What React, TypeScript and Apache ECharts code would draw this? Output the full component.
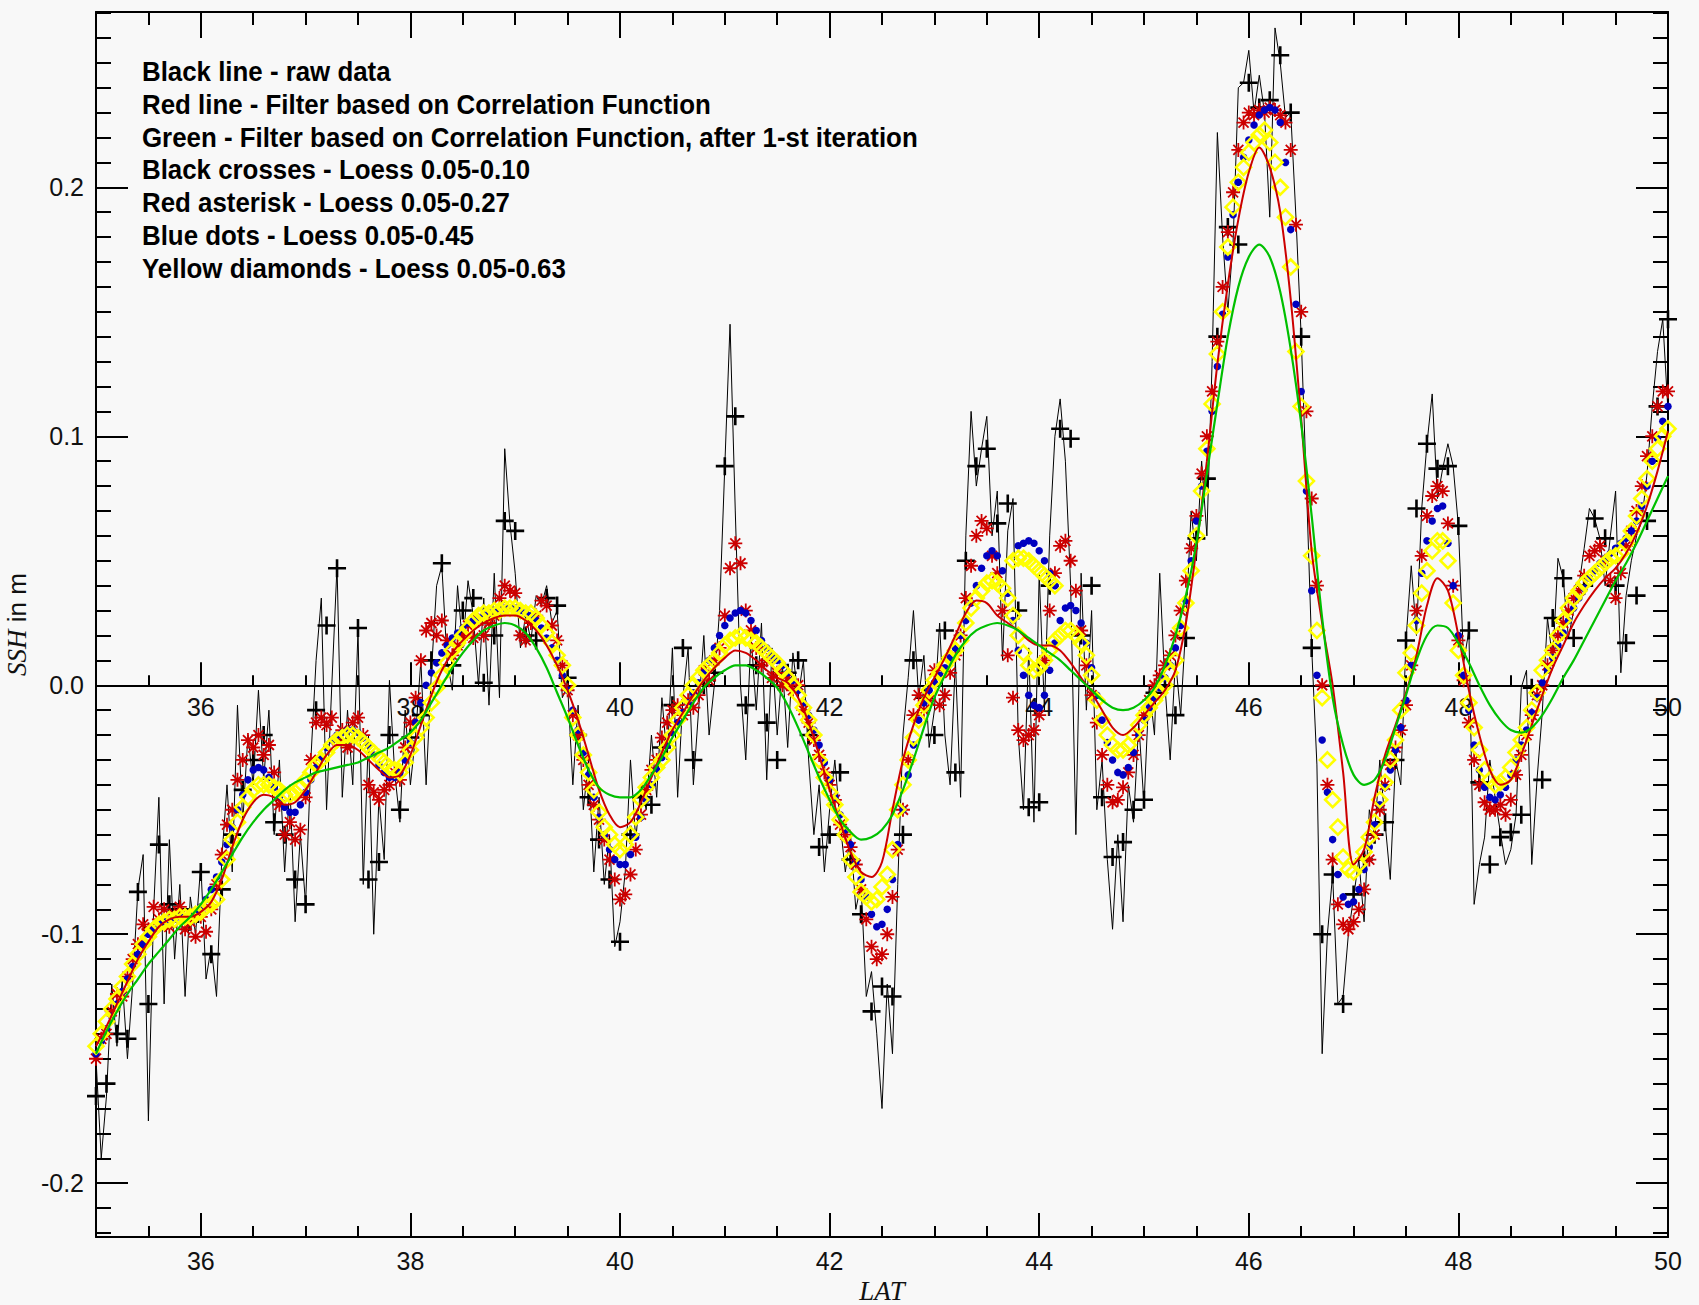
import React, { useEffect, useRef } from "react";
import * as echarts from "echarts";

// ---------- data (LAT grid starts at 35.00) ----------
const LAT_START = 35;
const FINE_STEP = 0.05; // raw, asterisks, blue, yellow
const COARSE_STEP = 0.1; // crosses, red line, green line

const RAW = [
  -0.150,-0.190,-0.165,-0.120,-0.145,-0.118,-0.150,-0.120,-0.082,-0.068,
  -0.175,-0.090,-0.045,-0.128,-0.062,-0.110,-0.080,-0.125,-0.085,-0.100,
  -0.072,-0.118,-0.105,-0.125,-0.070,-0.040,-0.075,-0.008,-0.055,-0.020,
  -0.040,-0.002,-0.038,-0.010,-0.060,-0.030,-0.075,-0.040,-0.095,-0.060,
  -0.088,-0.030,0.010,0.035,-0.050,0.000,0.048,-0.045,-0.010,-0.040,
  0.022,-0.080,-0.020,-0.100,-0.045,-0.070,0.002,-0.035,-0.055,-0.010,
  -0.040,-0.020,0.010,-0.040,0.005,0.040,0.048,0.010,-0.002,0.040,
  0.015,0.042,0.028,0.000,0.035,-0.008,0.045,-0.005,0.095,0.065,
  0.045,0.015,0.028,0.018,0.036,0.032,0.040,0.025,0.030,-0.005,
  0.000,-0.040,-0.008,-0.050,-0.030,-0.075,-0.045,-0.080,-0.060,-0.105,
  -0.095,-0.075,-0.030,-0.062,-0.040,-0.050,-0.020,-0.045,-0.005,-0.030,
  0.015,-0.045,-0.005,0.015,-0.040,-0.010,0.020,-0.020,0.000,0.030,
  0.088,0.145,0.070,0.000,-0.030,0.020,-0.010,0.025,-0.038,0.015,
  -0.020,0.008,-0.025,0.013,-0.005,0.010,-0.030,-0.060,-0.040,-0.075,
  -0.050,-0.030,-0.055,-0.075,-0.060,-0.090,-0.080,-0.125,-0.115,-0.140,
  -0.170,-0.120,-0.148,-0.080,-0.020,0.003,0.030,-0.005,0.012,-0.025,
  -0.010,0.025,-0.020,-0.040,0.010,-0.045,0.060,0.110,0.080,0.095,
  0.108,0.060,0.078,0.010,0.062,0.075,-0.020,-0.050,0.015,-0.055,
  0.045,-0.010,0.060,0.100,0.115,0.090,0.040,-0.060,0.045,-0.010,
  0.030,-0.050,-0.030,-0.070,-0.098,-0.060,-0.095,-0.040,-0.055,-0.015,
  -0.048,0.000,-0.020,0.045,0.000,-0.030,0.010,-0.012,0.025,0.070,
  0.050,0.090,0.060,0.130,0.222,0.180,0.150,0.178,0.240,0.242,
  0.255,0.230,0.245,0.230,0.188,0.264,0.250,0.228,0.230,0.188,
  0.140,0.080,0.015,-0.032,-0.148,-0.100,-0.076,-0.128,-0.125,-0.100,
  -0.085,-0.070,-0.095,-0.050,-0.060,-0.030,-0.055,-0.078,-0.030,-0.040,
  0.018,0.048,0.020,0.071,0.097,0.117,0.075,0.087,0.097,0.088,
  0.064,0.009,0.022,-0.088,-0.072,-0.061,-0.030,-0.045,-0.059,-0.072,
  -0.066,-0.052,-0.001,0.006,-0.072,-0.038,-0.011,0.027,0.010,0.051,
  0.043,0.019,0.030,0.040,0.055,0.071,0.067,0.059,0.040,0.060,
  0.078,0.005,0.036,0.050,0.060,0.066,0.085,0.112,0.134,0.147,
  0.110,
];

const CROSSES = [
  -0.165,-0.160,-0.140,-0.142,-0.083,-0.128,-0.064,-0.088,-0.090,-0.095,
  -0.075,-0.108,-0.082,-0.060,-0.042,-0.030,-0.020,-0.055,-0.060,-0.078,
  -0.088,-0.010,0.024,0.047,-0.022,0.023,-0.078,-0.071,-0.020,-0.050,
  -0.021,-0.012,0.010,0.049,0.008,0.030,0.035,0.001,0.020,0.066,
  0.062,0.020,0.018,0.035,0.032,0.003,-0.020,-0.045,-0.062,-0.078,
  -0.103,-0.060,-0.045,-0.048,-0.025,-0.008,0.015,-0.030,0.000,0.005,
  0.088,0.108,-0.008,0.008,-0.015,-0.030,0.005,0.010,-0.020,-0.065,
  -0.060,-0.035,-0.070,-0.092,-0.131,-0.121,-0.125,-0.060,0.010,-0.005,
  -0.020,0.022,-0.035,0.050,0.088,0.095,0.065,0.073,0.030,-0.049,
  -0.047,0.040,0.103,0.099,0.020,0.040,-0.045,-0.069,-0.063,-0.050,
  -0.046,-0.003,0.000,-0.012,0.019,0.059,0.083,0.140,0.184,0.177,
  0.242,0.232,0.235,0.253,0.230,0.140,0.015,-0.100,-0.076,-0.128,
  -0.084,-0.070,-0.060,-0.055,-0.030,0.018,0.071,0.097,0.087,0.088,
  0.064,0.022,-0.039,-0.072,-0.061,-0.059,-0.052,-0.001,-0.038,0.027,
  0.043,0.019,0.040,0.067,0.059,0.040,0.017,0.036,0.066,0.112,
  0.147,
];

const ASTERISK = [
  -0.150,-0.142,-0.140,-0.131,-0.124,-0.125,-0.117,-0.110,-0.104,-0.096,
  -0.098,-0.089,-0.094,-0.090,-0.097,-0.092,-0.089,-0.098,-0.095,-0.101,
  -0.093,-0.099,-0.090,-0.080,-0.068,-0.056,-0.050,-0.038,-0.030,-0.022,
  -0.025,-0.020,-0.028,-0.024,-0.035,-0.048,-0.060,-0.055,-0.062,-0.058,
  -0.045,-0.030,-0.015,-0.013,-0.016,-0.013,-0.022,-0.018,-0.025,-0.015,
  -0.013,-0.020,-0.040,-0.043,-0.046,-0.042,-0.040,-0.035,-0.038,-0.025,
  -0.015,-0.005,0.010,0.022,0.025,0.020,0.026,0.018,0.012,0.016,
  0.020,0.024,0.019,0.026,0.020,0.025,0.028,0.035,0.040,0.038,
  0.037,0.020,0.018,0.025,0.028,0.034,0.032,0.024,0.018,0.008,
  -0.002,-0.012,-0.020,-0.030,-0.040,-0.048,-0.054,-0.062,-0.070,-0.078,
  -0.086,-0.084,-0.076,-0.066,-0.052,-0.042,-0.034,-0.030,-0.021,-0.015,
  -0.010,-0.008,-0.012,-0.006,-0.009,-0.004,0.006,0.002,0.010,0.015,
  0.028,0.047,0.057,0.049,0.030,0.022,0.015,0.008,0.010,0.003,
  0.005,0.000,0.003,-0.002,0.000,-0.010,-0.015,-0.022,-0.028,-0.035,
  -0.040,-0.046,-0.056,-0.060,-0.065,-0.072,-0.082,-0.094,-0.105,-0.110,
  -0.108,-0.100,-0.085,-0.066,-0.050,-0.030,-0.012,-0.004,-0.010,-0.006,
  0.006,-0.008,-0.004,0.005,0.012,0.020,0.035,0.048,0.060,0.066,
  0.063,0.052,0.045,0.030,0.012,-0.005,-0.018,-0.022,-0.020,-0.018,
  -0.012,0.010,0.030,0.045,0.056,0.058,0.050,0.038,0.022,0.008,
  -0.004,-0.015,-0.028,-0.040,-0.047,-0.046,-0.041,-0.035,-0.028,-0.020,
  -0.012,-0.006,0.000,0.004,0.008,0.012,0.020,0.030,0.042,0.055,
  0.068,0.085,0.100,0.118,0.138,0.160,0.182,0.198,0.215,0.226,
  0.230,0.229,0.231,0.230,0.232,0.231,0.229,0.226,0.215,0.185,
  0.150,0.110,0.075,0.040,0.000,-0.040,-0.070,-0.088,-0.096,-0.098,
  -0.095,-0.090,-0.082,-0.070,-0.060,-0.050,-0.040,-0.032,-0.025,-0.018,
  -0.008,0.008,0.030,0.052,0.068,0.076,0.080,0.078,0.065,0.040,
  0.018,0.002,-0.015,-0.030,-0.040,-0.047,-0.050,-0.050,-0.048,-0.052,
  -0.046,-0.036,-0.028,-0.020,-0.012,-0.004,0.000,0.008,0.014,0.020,
  0.025,0.030,0.035,0.038,0.044,0.052,0.054,0.056,0.050,0.042,
  0.035,0.045,0.056,0.062,0.070,0.080,0.092,0.100,0.112,0.118,
  0.118,
];

const BLUE = [
  -0.148,-0.143,-0.138,-0.133,-0.128,-0.123,-0.118,-0.113,-0.108,-0.104,
  -0.100,-0.098,-0.096,-0.095,-0.094,-0.094,-0.093,-0.093,-0.092,-0.091,
  -0.089,-0.086,-0.082,-0.077,-0.071,-0.064,-0.057,-0.050,-0.044,-0.038,
  -0.034,-0.033,-0.034,-0.037,-0.041,-0.045,-0.049,-0.051,-0.051,-0.048,
  -0.043,-0.038,-0.033,-0.029,-0.025,-0.022,-0.020,-0.019,-0.018,-0.018,
  -0.019,-0.021,-0.024,-0.028,-0.032,-0.035,-0.037,-0.037,-0.035,-0.030,
  -0.023,-0.015,-0.007,0.000,0.005,0.009,0.013,0.016,0.019,0.021,
  0.023,0.025,0.026,0.027,0.028,0.029,0.030,0.031,0.031,0.031,
  0.031,0.030,0.029,0.028,0.026,0.023,0.019,0.015,0.010,0.004,
  -0.002,-0.010,-0.018,-0.027,-0.036,-0.045,-0.053,-0.060,-0.066,-0.070,
  -0.072,-0.072,-0.068,-0.061,-0.053,-0.046,-0.040,-0.034,-0.029,-0.024,
  -0.019,-0.015,-0.011,-0.007,-0.003,0.001,0.005,0.010,0.015,0.020,
  0.024,0.027,0.029,0.030,0.029,0.026,0.022,0.018,0.015,0.012,
  0.010,0.008,0.005,0.002,-0.002,-0.007,-0.012,-0.018,-0.024,-0.031,
  -0.038,-0.045,-0.052,-0.058,-0.064,-0.071,-0.078,-0.085,-0.092,-0.097,
  -0.096,-0.090,-0.078,-0.064,-0.050,-0.036,-0.024,-0.014,-0.007,-0.002,
  0.001,0.004,0.007,0.011,0.015,0.020,0.026,0.033,0.040,0.047,
  0.052,0.054,0.052,0.046,0.037,0.026,0.014,0.004,-0.004,-0.008,
  -0.009,-0.004,0.006,0.017,0.026,0.031,0.032,0.030,0.025,0.017,
  0.007,-0.004,-0.014,-0.023,-0.030,-0.035,-0.036,-0.033,-0.027,-0.020,
  -0.014,-0.009,-0.005,-0.001,0.003,0.008,0.015,0.024,0.034,0.050,
  0.066,0.080,0.094,0.110,0.128,0.149,0.172,0.189,0.202,0.212,
  0.219,0.225,0.229,0.231,0.232,0.231,0.226,0.210,0.183,0.153,
  0.118,0.078,0.038,0.004,-0.022,-0.043,-0.062,-0.076,-0.085,-0.088,
  -0.087,-0.082,-0.074,-0.065,-0.056,-0.048,-0.041,-0.034,-0.026,-0.017,
  -0.006,0.008,0.026,0.045,0.058,0.066,0.071,0.072,0.057,0.040,
  0.020,0.004,-0.010,-0.024,-0.034,-0.041,-0.045,-0.046,-0.044,-0.041,
  -0.036,-0.030,-0.024,-0.018,-0.011,-0.005,0.001,0.006,0.011,0.016,
  0.021,0.026,0.031,0.035,0.039,0.043,0.046,0.049,0.051,0.053,
  0.055,0.057,0.059,0.062,0.066,0.072,0.080,0.090,0.099,0.106,
  0.112,
];

// second (upper) branch of the blue dots near 44 N
const BLUE_BRANCH: [number, number][] = [
  [43.8, 0.056], [43.85, 0.057], [43.9, 0.058], [43.95, 0.057],
  [44.0, 0.054], [44.05, 0.05], [44.1, 0.045], [44.15, 0.04],
];

const YELLOW = [
  -0.145,-0.140,-0.135,-0.130,-0.126,-0.121,-0.117,-0.112,-0.108,-0.104,
  -0.101,-0.098,-0.096,-0.095,-0.094,-0.094,-0.093,-0.093,-0.093,-0.092,
  -0.091,-0.089,-0.088,-0.086,-0.078,-0.070,-0.062,-0.055,-0.049,-0.045,
  -0.042,-0.040,-0.040,-0.040,-0.041,-0.042,-0.044,-0.044,-0.043,-0.041,
  -0.038,-0.035,-0.032,-0.030,-0.027,-0.024,-0.022,-0.021,-0.020,-0.020,
  -0.021,-0.023,-0.025,-0.027,-0.029,-0.031,-0.033,-0.034,-0.035,-0.031,
  -0.026,-0.021,-0.017,-0.013,-0.007,-0.001,0.004,0.009,0.014,0.017,
  0.020,0.023,0.026,0.028,0.029,0.029,0.030,0.030,0.031,0.031,
  0.031,0.030,0.029,0.029,0.027,0.024,0.021,0.017,0.012,0.008,
  0.000,-0.013,-0.020,-0.028,-0.035,-0.042,-0.051,-0.057,-0.060,-0.064,
  -0.066,-0.064,-0.060,-0.053,-0.046,-0.041,-0.037,-0.033,-0.030,-0.025,
  -0.020,-0.014,-0.009,-0.004,0.000,0.003,0.006,0.008,0.010,0.013,
  0.016,0.018,0.019,0.020,0.019,0.018,0.017,0.015,0.013,0.011,
  0.009,0.006,0.003,0.000,-0.004,-0.009,-0.014,-0.020,-0.030,-0.037,
  -0.043,-0.048,-0.054,-0.060,-0.070,-0.077,-0.083,-0.085,-0.087,-0.086,
  -0.081,-0.076,-0.066,-0.050,-0.040,-0.030,-0.021,-0.014,-0.008,-0.002,
  0.002,0.005,0.008,0.011,0.014,0.018,0.025,0.031,0.035,0.038,
  0.041,0.042,0.041,0.039,0.035,0.028,0.020,0.013,0.008,0.006,
  0.007,0.010,0.014,0.018,0.020,0.022,0.022,0.020,0.017,0.012,
  0.004,-0.006,-0.014,-0.020,-0.024,-0.026,-0.026,-0.024,-0.020,-0.016,
  -0.012,-0.009,-0.006,-0.003,0.000,0.005,0.010,0.023,0.033,0.046,
  0.060,0.078,0.095,0.113,0.133,0.150,0.176,0.192,0.202,0.208,
  0.214,0.218,0.221,0.223,0.218,0.210,0.200,0.188,0.168,0.134,
  0.112,0.082,0.052,0.022,-0.005,-0.030,-0.046,-0.057,-0.069,-0.074,
  -0.075,-0.072,-0.067,-0.061,-0.055,-0.046,-0.039,-0.030,-0.022,-0.010,
  0.005,0.013,0.024,0.037,0.046,0.054,0.058,0.058,0.050,0.033,
  0.014,0.004,-0.007,-0.017,-0.026,-0.034,-0.038,-0.040,-0.039,-0.037,
  -0.033,-0.027,-0.022,-0.017,-0.010,-0.003,0.006,0.010,0.014,0.020,
  0.026,0.031,0.035,0.038,0.041,0.043,0.045,0.047,0.049,0.051,
  0.052,0.053,0.057,0.062,0.068,0.075,0.083,0.090,0.095,0.100,
  0.103,
];

// second (upper) branch of the yellow diamonds near 44 N
const YELLOW_BRANCH: [number, number][] = [
  [43.75, 0.05], [43.8, 0.051], [43.85, 0.051], [43.9, 0.05], [43.95, 0.048],
  [44.0, 0.046], [44.05, 0.044], [44.1, 0.042], [44.15, 0.04],
];

const RED_LINE = [
  -0.145,-0.137,-0.128,-0.119,-0.110,-0.103,-0.097,-0.094,-0.093,-0.093,
  -0.091,-0.087,-0.078,-0.065,-0.054,-0.047,-0.044,-0.045,-0.048,-0.047,
  -0.042,-0.035,-0.028,-0.024,-0.024,-0.026,-0.030,-0.034,-0.037,-0.036,
  -0.028,-0.016,-0.004,0.006,0.013,0.018,0.022,0.025,0.027,0.028,
  0.028,0.026,0.022,0.016,0.008,-0.002,-0.014,-0.028,-0.042,-0.052,
  -0.057,-0.055,-0.047,-0.037,-0.027,-0.018,-0.011,-0.004,0.002,0.007,
  0.011,0.014,0.013,0.010,0.006,0.003,0.001,-0.005,-0.015,-0.028,
  -0.042,-0.055,-0.067,-0.075,-0.077,-0.071,-0.050,-0.030,-0.016,-0.005,
  0.003,0.011,0.020,0.029,0.034,0.033,0.028,0.025,0.022,0.018,
  0.016,0.016,0.014,0.009,0.003,-0.003,-0.010,-0.017,-0.020,-0.017,
  -0.012,-0.007,-0.002,0.006,0.025,0.055,0.090,0.129,0.161,0.187,
  0.206,0.216,0.208,0.190,0.155,0.107,0.054,0.025,0.000,-0.035,
  -0.072,-0.066,-0.045,-0.028,-0.016,-0.003,0.012,0.032,0.043,0.038,
  0.020,-0.002,-0.020,-0.034,-0.040,-0.038,-0.028,-0.016,-0.004,0.007,
  0.016,0.025,0.032,0.038,0.043,0.047,0.053,0.061,0.072,0.086,
  0.102,
];

const GREEN_LINE = [
  -0.148,-0.139,-0.131,-0.124,-0.118,-0.112,-0.107,-0.102,-0.097,-0.093,
  -0.088,-0.082,-0.075,-0.068,-0.061,-0.055,-0.050,-0.046,-0.042,-0.039,
  -0.037,-0.035,-0.034,-0.033,-0.032,-0.031,-0.029,-0.027,-0.025,-0.022,
  -0.019,-0.014,-0.007,0.000,0.007,0.013,0.018,0.022,0.024,0.025,
  0.024,0.021,0.015,0.007,-0.003,-0.013,-0.024,-0.034,-0.041,-0.044,
  -0.045,-0.045,-0.042,-0.036,-0.029,-0.021,-0.014,-0.007,-0.001,0.003,
  0.006,0.008,0.008,0.006,0.003,-0.001,-0.008,-0.017,-0.027,-0.037,
  -0.046,-0.054,-0.059,-0.062,-0.061,-0.058,-0.052,-0.042,-0.030,-0.017,
  -0.005,0.004,0.012,0.018,0.022,0.024,0.025,0.024,0.022,0.019,
  0.016,0.013,0.010,0.006,0.002,-0.002,-0.006,-0.009,-0.010,-0.009,
  -0.006,-0.001,0.008,0.020,0.036,0.057,0.085,0.113,0.140,0.160,
  0.172,0.177,0.172,0.158,0.135,0.105,0.068,0.027,-0.005,-0.024,
  -0.036,-0.040,-0.038,-0.030,-0.017,-0.004,0.010,0.020,0.024,0.023,
  0.017,0.009,0.000,-0.008,-0.014,-0.018,-0.019,-0.017,-0.012,-0.005,
  0.003,0.010,0.018,0.026,0.034,0.042,0.049,0.057,0.066,0.075,
  0.084,
];

const LEGEND_LINES = [
  "Black line - raw data",
  "Red line - Filter based on Correlation Function",
  "Green - Filter based on Correlation Function, after 1-st iteration",
  "Black crosses - Loess 0.05-0.10",
  "Red asterisk - Loess 0.05-0.27",
  "Blue dots - Loess 0.05-0.45",
  "Yellow diamonds - Loess 0.05-0.63",
];

const X_MIN = 35;
const X_MAX = 50;
const Y_MIN = -0.2216;
const Y_MAX = 0.2704;

// ---------- helpers ----------
const toPairs = (ys: number[], step: number) =>
  ys.map((y, i) => [Number((LAT_START + i * step).toFixed(2)), y]);

const SANS = '"Liberation Sans", Arial, sans-serif';
const SERIF = '"Liberation Serif", "DejaVu Serif", serif';

const CROSS_SYMBOL = "path://M0,9L18,9M9,0L9,18";
const ASTERISK_SYMBOL = "path://M0,7L14,7M7,0L7,14M2,2L12,12M2,12L12,2";
const DIAMOND_SYMBOL = "path://M7,0L14,7L7,14L0,7Z";

// layout
const W = 1699;
const H = 1305;
const G_LEFT = 96;
const G_RIGHT = 31;
const G_TOP = 12;
const G_BOTTOM = 68;
const LEGEND_FONT = `bold 28px ${SANS}`;
const LEGEND_TARGET_WIDTH = 776; // width of the longest legend line

export default function App() {
  const ref = useRef<HTMLDivElement>(null);

  useEffect(() => {
    document.body.style.margin = "0";
    if (!ref.current) return;
    const chart = echarts.init(ref.current, undefined, { renderer: "svg" });

    // horizontal compression so the legend matches a narrow bold face
    let legendScale = 0.86;
    try {
      const ctx = document.createElement("canvas").getContext("2d");
      if (ctx) {
        ctx.font = LEGEND_FONT;
        const w = ctx.measureText(LEGEND_LINES[2]).width;
        if (w > 0) legendScale = LEGEND_TARGET_WIDTH / w;
      }
    } catch (e) {
      /* keep default */
    }

    const plotH = H - G_TOP - G_BOTTOM;
    const zeroY = G_TOP + (plotH * Y_MAX) / (Y_MAX - Y_MIN);

    const axisLine = { lineStyle: { color: "#000", width: 2 } };
    const tickStyle = { color: "#000", width: 2 };
    const labelStyle = { color: "#111", fontSize: 25, fontFamily: SANS };

    const baseX = {
      type: "value" as const,
      min: X_MIN,
      max: X_MAX,
      splitNumber: 7,
      splitLine: { show: false },
    };
    const baseY = {
      type: "value" as const,
      min: Y_MIN,
      max: Y_MAX,
      splitNumber: 5,
      splitLine: { show: false },
    };

    const option: any = {
      animation: false,
      backgroundColor: "#f8f8f8",
      grid: [
        { left: G_LEFT, right: G_RIGHT, top: G_TOP, bottom: G_BOTTOM, containLabel: false, outerBoundsMode: "none" },
        { left: G_LEFT, right: G_RIGHT, top: G_TOP, bottom: H - zeroY, containLabel: false, outerBoundsMode: "none" },
      ],
      xAxis: [
        {
          ...baseX,
          gridIndex: 0,
          position: "bottom",
          axisLine: { ...axisLine, onZero: false },
          axisTick: { inside: true, length: 24, lineStyle: tickStyle },
          minorTick: { show: true, splitNumber: 4, length: 11, lineStyle: tickStyle },
          axisLabel: { ...labelStyle, margin: 11, showMinLabel: false, formatter: (v: number) => String(v) },
          name: "LAT",
          nameLocation: "middle",
          nameGap: 37,
          nameTextStyle: { fontFamily: SERIF, fontStyle: "italic", fontSize: 27, color: "#111" },
        },
        {
          ...baseX,
          gridIndex: 0,
          position: "top",
          axisLine: { ...axisLine, onZero: false },
          axisTick: { inside: true, length: 26, lineStyle: tickStyle },
          minorTick: { show: true, splitNumber: 4, length: 13, lineStyle: tickStyle },
          axisLabel: { show: false },
        },
        {
          // the zero line with its own tick marks and labels
          ...baseX,
          gridIndex: 1,
          position: "bottom",
          axisLine: { ...axisLine, onZero: false },
          axisTick: { inside: true, length: 23, lineStyle: tickStyle },
          minorTick: { show: true, splitNumber: 4, length: 10, lineStyle: tickStyle },
          axisLabel: { ...labelStyle, margin: 9, showMinLabel: false, formatter: (v: number) => String(v) },
        },
      ],
      yAxis: [
        {
          ...baseY,
          gridIndex: 0,
          position: "left",
          axisLine: { ...axisLine, onZero: false },
          axisTick: { inside: true, length: 32, lineStyle: tickStyle },
          minorTick: { show: true, splitNumber: 10, length: 15, lineStyle: tickStyle },
          axisLabel: {
            ...labelStyle,
            margin: 12,
            showMinLabel: false,
            showMaxLabel: false,
            formatter: (v: number) => v.toFixed(1),
          },
          name: "{i|SSH} in m",
          nameLocation: "middle",
          nameRotate: 90,
          nameGap: 54,
          nameTextStyle: {
            fontFamily: SANS,
            fontSize: 26,
            color: "#111",
            rich: { i: { fontFamily: SERIF, fontStyle: "italic", fontSize: 27, color: "#111" } },
          },
        },
        {
          ...baseY,
          gridIndex: 0,
          position: "right",
          axisLine: { ...axisLine, onZero: false },
          axisTick: { inside: true, length: 32, lineStyle: tickStyle },
          minorTick: { show: true, splitNumber: 10, length: 15, lineStyle: tickStyle },
          axisLabel: { show: false },
        },
        {
          type: "value",
          gridIndex: 1,
          min: 0,
          max: 1,
          show: false,
        },
      ],
      graphic: LEGEND_LINES.map((t, i) => ({
        type: "text",
        x: 142,
        y: 72 + i * 32.7,
        scaleX: legendScale,
        silent: true,
        style: {
          text: t,
          fill: "#000",
          font: LEGEND_FONT,
          verticalAlign: "middle",
          align: "left",
        },
      })),
      series: [
        {
          name: "raw",
          type: "line",
          data: toPairs(RAW, FINE_STEP),
          symbol: "none",
          lineStyle: { color: "#000", width: 1 },
          silent: true,
          z: 2,
        },
        {
          name: "crosses",
          type: "scatter",
          data: toPairs(CROSSES, COARSE_STEP),
          symbol: CROSS_SYMBOL,
          symbolSize: 18,
          itemStyle: { color: "rgba(0,0,0,0)", borderColor: "#000", borderWidth: 2.6, opacity: 1 },
          silent: true,
          z: 3,
        },
        {
          name: "asterisk",
          type: "scatter",
          data: toPairs(ASTERISK, FINE_STEP),
          symbol: ASTERISK_SYMBOL,
          symbolSize: 14,
          itemStyle: { color: "rgba(0,0,0,0)", borderColor: "#cc0000", borderWidth: 1.8, opacity: 1 },
          silent: true,
          z: 4,
        },
        {
          name: "blue",
          type: "scatter",
          data: [...toPairs(BLUE, FINE_STEP), ...BLUE_BRANCH],
          symbol: "circle",
          symbolSize: 7.5,
          itemStyle: { color: "#0000c0", opacity: 1 },
          silent: true,
          z: 5,
        },
        {
          name: "yellow",
          type: "scatter",
          data: [...toPairs(YELLOW, FINE_STEP), ...YELLOW_BRANCH],
          symbol: DIAMOND_SYMBOL,
          symbolSize: 15,
          itemStyle: { color: "rgba(0,0,0,0)", borderColor: "#ffff00", borderWidth: 2.6, opacity: 1 },
          silent: true,
          z: 6,
        },
        {
          name: "red",
          type: "line",
          data: toPairs(RED_LINE, COARSE_STEP),
          symbol: "none",
          smooth: 0.3,
          lineStyle: { color: "#cc0000", width: 2 },
          silent: true,
          z: 7,
        },
        {
          name: "green",
          type: "line",
          data: toPairs(GREEN_LINE, COARSE_STEP),
          symbol: "none",
          smooth: 0.3,
          lineStyle: { color: "#00c000", width: 2.2 },
          silent: true,
          z: 8,
        },
      ],
    };

    chart.setOption(option);
    return () => chart.dispose();
  }, []);

  return <div ref={ref} style={{ width: W, height: H }} />;
}
